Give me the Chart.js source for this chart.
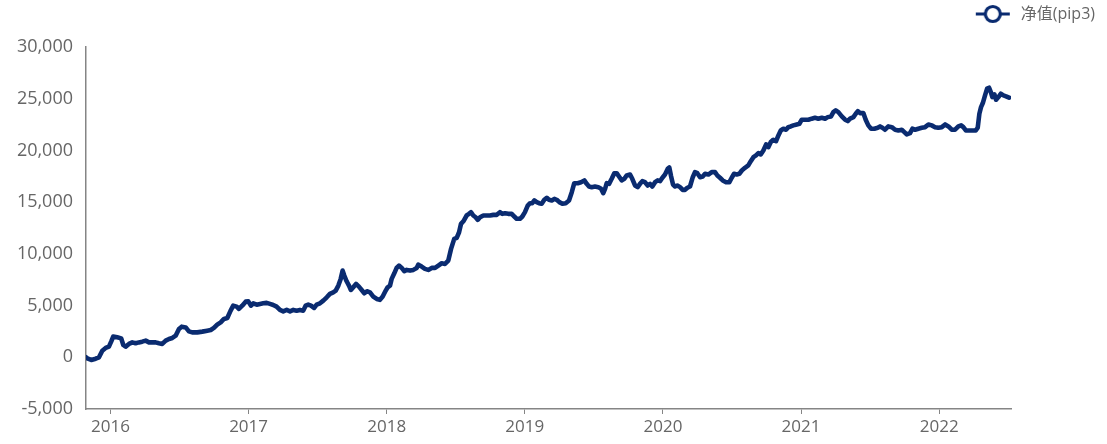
<!DOCTYPE html>
<html>
<head>
<meta charset="utf-8">
<script src="https://cdn.jsdelivr.net/npm/chart.js@4.4.1/dist/chart.umd.min.js"></script>
<style>
  html, body { margin: 0; padding: 0; background: #ffffff; }
  #wrap { width: 1107px; height: 444px; position: relative; }
</style>
</head>
<body>
<div id="wrap"><canvas id="c" width="1107" height="444"></canvas></div>
<script>
// Dates as decimal years (x), and net value series (y)
const dates = [
  2015.823, 2015.832, 2015.861, 2015.893, 2015.917, 2015.941, 2015.965, 2015.989, 2016.006, 2016.020,
  2016.049, 2016.078, 2016.093, 2016.110, 2016.134, 2016.158, 2016.182, 2016.206, 2016.230, 2016.255,
  2016.279, 2016.303, 2016.327, 2016.351, 2016.375, 2016.400, 2016.424, 2016.448, 2016.472, 2016.496,
  2016.516, 2016.545, 2016.568, 2016.592, 2016.629, 2016.665, 2016.701, 2016.726, 2016.749, 2016.773,
  2016.798, 2016.822, 2016.846, 2016.870, 2016.889, 2016.914, 2016.930, 2016.954, 2016.979, 2016.998,
  2017.017, 2017.034, 2017.059, 2017.083, 2017.106, 2017.131, 2017.155, 2017.179, 2017.203, 2017.227,
  2017.251, 2017.276, 2017.300, 2017.324, 2017.348, 2017.372, 2017.396, 2017.413, 2017.432, 2017.452,
  2017.474, 2017.493, 2017.517, 2017.541, 2017.566, 2017.589, 2017.613, 2017.631, 2017.650, 2017.667,
  2017.681, 2017.693, 2017.710, 2017.727, 2017.741, 2017.758, 2017.778, 2017.799, 2017.819, 2017.838,
  2017.857, 2017.879, 2017.903, 2017.928, 2017.951, 2017.971, 2017.993, 2018.007, 2018.024, 2018.036,
  2018.055, 2018.072, 2018.089, 2018.109, 2018.127, 2018.145, 2018.169, 2018.193, 2018.217, 2018.229,
  2018.253, 2018.277, 2018.301, 2018.326, 2018.350, 2018.374, 2018.398, 2018.422, 2018.446, 2018.466,
  2018.489, 2018.507, 2018.524, 2018.538, 2018.555, 2018.579, 2018.596, 2018.610, 2018.627, 2018.644,
  2018.659, 2018.676, 2018.700, 2018.724, 2018.748, 2018.772, 2018.797, 2018.820, 2018.837, 2018.857,
  2018.880, 2018.905, 2018.924, 2018.941, 2018.965, 2018.982, 2019.001, 2019.021, 2019.038, 2019.054,
  2019.069, 2019.086, 2019.103, 2019.122, 2019.141, 2019.159, 2019.175, 2019.195, 2019.214, 2019.231,
  2019.250, 2019.272, 2019.296, 2019.320, 2019.340, 2019.358, 2019.383, 2019.407, 2019.431, 2019.448,
  2019.465, 2019.484, 2019.508, 2019.532, 2019.552, 2019.568, 2019.581, 2019.593, 2019.610, 2019.629,
  2019.648, 2019.665, 2019.682, 2019.702, 2019.720, 2019.738, 2019.762, 2019.778, 2019.798, 2019.817,
  2019.834, 2019.851, 2019.870, 2019.890, 2019.907, 2019.923, 2019.943, 2019.962, 2019.979, 2019.996,
  2020.015, 2020.035, 2020.046, 2020.059, 2020.073, 2020.088, 2020.104, 2020.124, 2020.143, 2020.160,
  2020.177, 2020.196, 2020.216, 2020.232, 2020.249, 2020.269, 2020.288, 2020.305, 2020.329, 2020.353,
  2020.377, 2020.394, 2020.413, 2020.433, 2020.457, 2020.481, 2020.498, 2020.515, 2020.534, 2020.553,
  2020.571, 2020.594, 2020.618, 2020.636, 2020.655, 2020.674, 2020.691, 2020.708, 2020.727, 2020.747,
  2020.763, 2020.781, 2020.799, 2020.819, 2020.836, 2020.853, 2020.872, 2020.891, 2020.908, 2020.925,
  2020.944, 2020.969, 2020.988, 2021.005, 2021.029, 2021.053, 2021.077, 2021.101, 2021.125, 2021.150,
  2021.174, 2021.193, 2021.217, 2021.234, 2021.251, 2021.270, 2021.295, 2021.319, 2021.338, 2021.355,
  2021.379, 2021.396, 2021.411, 2021.427, 2021.451, 2021.468, 2021.487, 2021.507, 2021.531, 2021.555,
  2021.572, 2021.589, 2021.608, 2021.632, 2021.657, 2021.681, 2021.705, 2021.729, 2021.748, 2021.765,
  2021.789, 2021.806, 2021.825, 2021.849, 2021.874, 2021.898, 2021.922, 2021.946, 2021.970, 2021.994,
  2022.019, 2022.043, 2022.067, 2022.091, 2022.115, 2022.139, 2022.159, 2022.175, 2022.193, 2022.216,
  2022.240, 2022.265, 2022.279, 2022.291, 2022.303, 2022.316, 2022.332, 2022.347, 2022.361, 2022.374,
  2022.385, 2022.400, 2022.412, 2022.429, 2022.446, 2022.465, 2022.484, 2022.506
];

const netValue = [
  0, -100, -260, -135, 0, 640, 900, 1030, 1540, 2000,
  1930, 1830, 1190, 1030, 1290, 1440, 1350, 1440, 1510, 1610,
  1440, 1440, 1440, 1350, 1290, 1610, 1770, 1870, 2090, 2740,
  2960, 2890, 2510, 2410, 2410, 2480, 2570, 2640, 2840, 3160,
  3380, 3710, 3800, 4510, 4990, 4900, 4680, 4990, 5380, 5410,
  4990, 5220, 5090, 5160, 5220, 5260, 5160, 5060, 4900, 4580,
  4440, 4580, 4440, 4580, 4510, 4580, 4510, 4990, 5090, 4990,
  4770, 5090, 5220, 5480, 5800, 6130, 6280, 6450, 6930, 7580,
  8380, 7900, 7350, 6930, 6510, 6770, 7100, 6830, 6510, 6190,
  6380, 6280, 5870, 5640, 5550, 5870, 6450, 6770, 6930, 7580,
  8120, 8640, 8870, 8640, 8320, 8450, 8380, 8450, 8640, 8960,
  8770, 8550, 8450, 8640, 8640, 8870, 9090, 9030, 9350, 10480,
  11450, 11550, 12090, 12900, 13150, 13710, 13870, 14030, 13710, 13540,
  13290, 13540, 13710, 13710, 13710, 13770, 13770, 14030, 13870, 13930,
  13870, 13870, 13610, 13390, 13390, 13610, 14030, 14670, 14900, 14900,
  15160, 15000, 14900, 14840, 15230, 15420, 15230, 15160, 15320, 15230,
  15000, 14840, 14900, 15160, 15960, 16830, 16830, 16930, 17100, 16770,
  16510, 16450, 16510, 16450, 16290, 15870, 16290, 16830, 16770, 17260,
  17800, 17800, 17480, 17100, 17260, 17580, 17670, 17260, 16610, 16450,
  16770, 17030, 16930, 16610, 16770, 16510, 16930, 17100, 17030, 17360,
  17670, 18220, 18350, 17500, 16700, 16510, 16610, 16450, 16190, 16190,
  16390, 16510, 17410, 17900, 17800, 17410, 17480, 17740, 17670, 17900,
  17900, 17580, 17360, 17100, 16930, 16930, 17360, 17740, 17670, 17740,
  18060, 18320, 18550, 18960, 19350, 19520, 19740, 19610, 20000, 20580,
  20320, 20810, 21030, 20900, 21450, 21930, 22100, 22000, 22250, 22320,
  22420, 22510, 22580, 22970, 22970, 22970, 23070, 23160, 23070, 23160,
  23070, 23220, 23290, 23700, 23870, 23700, 23290, 22970, 22840, 23070,
  23220, 23550, 23800, 23610, 23610, 22970, 22420, 22100, 22100, 22190,
  22320, 22190, 22000, 22320, 22250, 22000, 21930, 22000, 21770, 21550,
  21670, 22100, 22000, 22100, 22190, 22250, 22510, 22420, 22250, 22190,
  22250, 22510, 22320, 22000, 22000, 22320, 22420, 22250, 21930, 21930,
  21930, 21930, 22190, 23550, 24190, 24580, 25320, 25970, 26060, 25640,
  25160, 25420, 24900, 25160, 25480, 25320, 25230, 25100
];

const yearTicks = [2016, 2017, 2018, 2019, 2020, 2021, 2022];
const seriesName = '净值(pip3)';

const NAVY = '#0a2b70';
const GREY_TEXT = '#666666';
const AXIS_GREY = '#858585';

const points = dates.map((d, i) => ({ x: d, y: netValue[i] }));

// Legend marker: line with hollow circle
function makeMarker() {
  const c = document.createElement('canvas');
  c.width = 36; c.height = 20;
  const g = c.getContext('2d');
  g.strokeStyle = NAVY;
  g.lineWidth = 3;
  g.beginPath(); g.moveTo(1, 10); g.lineTo(35, 10); g.stroke();
  g.beginPath(); g.arc(18, 10, 7.5, 0, Math.PI * 2);
  g.fillStyle = '#ffffff'; g.fill();
  g.lineWidth = 3.2; g.stroke();
  return c;
}
const marker = makeMarker();

const legendFit = {
  id: 'legendFit',
  beforeInit(chart) {
    const orig = chart.legend.fit;
    chart.legend.fit = function () { orig.call(this); this.height = 47; };
  }
};

new Chart(document.getElementById('c'), {
  type: 'line',
  data: {
    datasets: [{
      label: seriesName,
      data: points,
      borderColor: NAVY,
      backgroundColor: '#ffffff',
      borderWidth: 4.6,
      pointRadius: 0,
      tension: 0,
      borderJoinStyle: 'round',
      borderCapStyle: 'round',
      pointStyle: marker
    }]
  },
  options: {
    responsive: false,
    animation: false,
    layout: { padding: { left: 0, right: 6, top: 0, bottom: 0 } },
    plugins: {
      tooltip: { enabled: false },
      legend: {
        position: 'top',
        align: 'end',
        labels: {
          usePointStyle: true,
          pointStyleWidth: 40,
          padding: 6,
          color: GREY_TEXT,
          font: { family: "'Open Sans', 'Noto Sans CJK SC', sans-serif", size: 16 }
        }
      }
    },
    scales: {
      x: {
        type: 'linear',
        min: dates[0],
        max: 2022.52,
        afterBuildTicks: (s) => { s.ticks = yearTicks.map(v => ({ value: v })); },
        ticks: {
          callback: (v) => String(v),
          color: GREY_TEXT,
          padding: 3,
          maxRotation: 0,
          autoSkip: false,
          font: { family: "'Open Sans', sans-serif", size: 17 }
        },
        grid: { display: true, drawOnChartArea: false, drawTicks: true, tickLength: 5, color: AXIS_GREY, lineWidth: 1 },
        border: { display: true, color: AXIS_GREY, width: 1.5 },
        afterFit: (s) => { s.height = 35; }
      },
      y: {
        position: 'left',
        min: -5000,
        max: 30000,
        afterBuildTicks: (s) => {
          const t = [];
          for (let v = -5000; v <= 30000; v += 5000) t.push({ value: v });
          s.ticks = t;
        },
        ticks: {
          callback: (v) => Number(v).toLocaleString('en-US'),
          color: GREY_TEXT,
          padding: 13,
          font: { family: "'Open Sans', sans-serif", size: 18 }
        },
        grid: { display: false, drawTicks: false },
        border: { display: true, color: AXIS_GREY, width: 1.5 },
        afterFit: (s) => { s.width = 86; }
      },
      y2: {
        position: 'right',
        display: true,
        ticks: { display: false },
        grid: { display: false, drawTicks: false },
        border: { display: false },
        afterFit: (s) => { s.width = 90; }
      }
    }
  },
  plugins: [legendFit]
});
</script>
</body>
</html>
